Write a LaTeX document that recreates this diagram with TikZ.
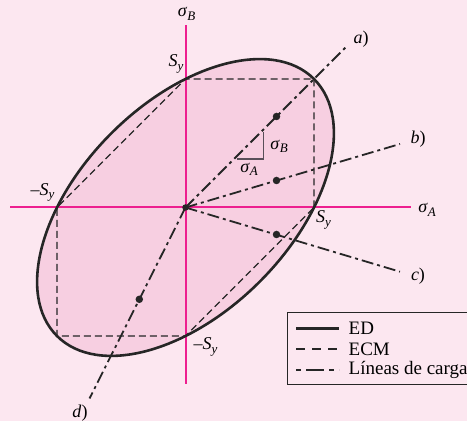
\documentclass[tikz,border=0pt]{standalone}
\usepackage{fontspec}
\setmainfont{Liberation Serif}
\definecolor{bgpink}{RGB}{252,231,240}
\definecolor{fillpink}{RGB}{247,207,225}
\definecolor{axmag}{rgb}{0.93,0.12,0.56}
\definecolor{trigray}{rgb}{0.35,0.31,0.35}
\newcommand{\sgm}[1]{\textit{σ}\raisebox{-0.45ex}{\fontsize{13}{13}\selectfont\itshape #1}}
\newcommand{\Sy}{\textit{S}\raisebox{-0.45ex}{\fontsize{13}{13}\selectfont\itshape y}}
\tikzset{
  lbl/.style={font=\fontsize{18}{18}\selectfont, inner sep=0pt},
  leg/.style={font=\fontsize{19}{19}\selectfont, inner sep=0pt, anchor=west},
  magaxis/.style={draw=axmag, line width=2pt},
  ecm/.style={black!85, line width=1.2pt, dash pattern=on 7pt off 4pt},
  load/.style={black!85, line width=1.8pt, dash pattern=on 12pt off 4pt on 3pt off 4pt},
  edline/.style={black!85, line width=2.6pt},
  dotp/.style={circle, fill=black!85, inner sep=0pt, minimum size=7.5pt},
}
\begin{document}
\begin{tikzpicture}[x=1pt,y=1pt]
\fill[bgpink] (0,0) rectangle (467,421);
\useasboundingbox (0,0) rectangle (467,421);
\coordinate (O) at (185.5,213.5);
% ellipse fill
\fill[fillpink, rotate around={45:(O)}] (O) ellipse (181.73pt and 104.92pt);
% axes
\coordinate (xl) at (10,213.5);
\coordinate (xr) at (410.5,213.5);
\coordinate (yb) at (185.5,37);
\coordinate (yt) at (185.5,395.7);
\draw[magaxis] (xl) -- (xr);
\draw[magaxis] (yb) -- (yt);
% ECM hexagon
\coordinate (h1) at (314,213.5);
\coordinate (h2) at (314,342);
\coordinate (h3) at (185.5,342);
\coordinate (h4) at (57,213.5);
\coordinate (h5) at (57,85);
\coordinate (h6) at (185.5,85);
\draw[ecm] (h1) -- (h2) -- (h3) -- (h4) -- (h5) -- (h6) -- cycle;
% load lines
\coordinate (ae) at (345.5,373.5);
\coordinate (be) at (400,277);
\coordinate (ce) at (400,149.3);
\coordinate (de) at (89.5,22.5);
\draw[load] (O) -- (ae);
\draw[load] (O) -- (be);
\draw[load] (O) -- (ce);
\draw[load] (O) -- (de);
% ellipse outline
\draw[edline, rotate around={45:(O)}] (O) ellipse (181.73pt and 104.92pt);
% dots
\node[dotp] (da) at (276.5,304.5) {};
\node[dotp] (db) at (276.5,240.5) {};
\node[dotp] (dc) at (276.5,186.5) {};
\node[dotp] (dd) at (139.3,121.7) {};
\node[dotp, minimum size=6.5pt] (do) at (O) {};
% slope triangle
\coordinate (t1) at (236.7,262);
\coordinate (t2) at (263.3,262);
\coordinate (t3) at (263.3,289.3);
\draw[trigray, line width=1.2pt] (t1) -- (t2) -- (t3);
\node[lbl] (tsb) at (279,274.5) {\sgm{B}};
\node[lbl] (tsa) at (249,251.5) {\sgm{A}};
% labels
\node[lbl] (la) at (361,382) {\textit{a})};
\node[lbl] (lb) at (418,281.7) {\textit{b})};
\node[lbl] (lc) at (418,145) {\textit{c})};
\node[lbl] (ld) at (80,8) {\textit{d})};
\node[lbl] (sB) at (186.5,407.3) {\sgm{B}};
\node[lbl] (sA) at (427,211) {\sgm{A}};
\node[lbl] (syt) at (176,357) {\Sy};
\node[lbl] (syr) at (323.5,201) {\Sy};
\node[lbl] (syl) at (42.5,228.5) {–\Sy};
\node[lbl] (syb) at (205.5,74.3) {–\Sy};
% legend
\coordinate (lg1) at (287.3,36.7);
\coordinate (lg2) at (480,108.3);
\draw[black!85, line width=1.2pt, fill=bgpink] (lg1) rectangle (lg2);
\coordinate (e1) at (296,92.7); \coordinate (e2) at (339,92.7);
\coordinate (m1) at (296,72);   \coordinate (m2) at (339,72);
\coordinate (n1) at (296,51);   \coordinate (n2) at (339,51);
\draw[edline] (e1) -- (e2);
\draw[ecm, dash pattern=on 9pt off 7pt] (m1) -- (m2);
\draw[load, dash pattern=on 5pt off 5pt on 18pt off 5pt on 5pt] (n1) -- (n2);
\node[leg] (tED) at (348.5,92.7) {ED};
\node[leg] (tECM) at (348.5,72) {ECM};
\node[leg] (tLC) at (348.5,51) {Líneas de carga};
\end{tikzpicture}
\end{document}
